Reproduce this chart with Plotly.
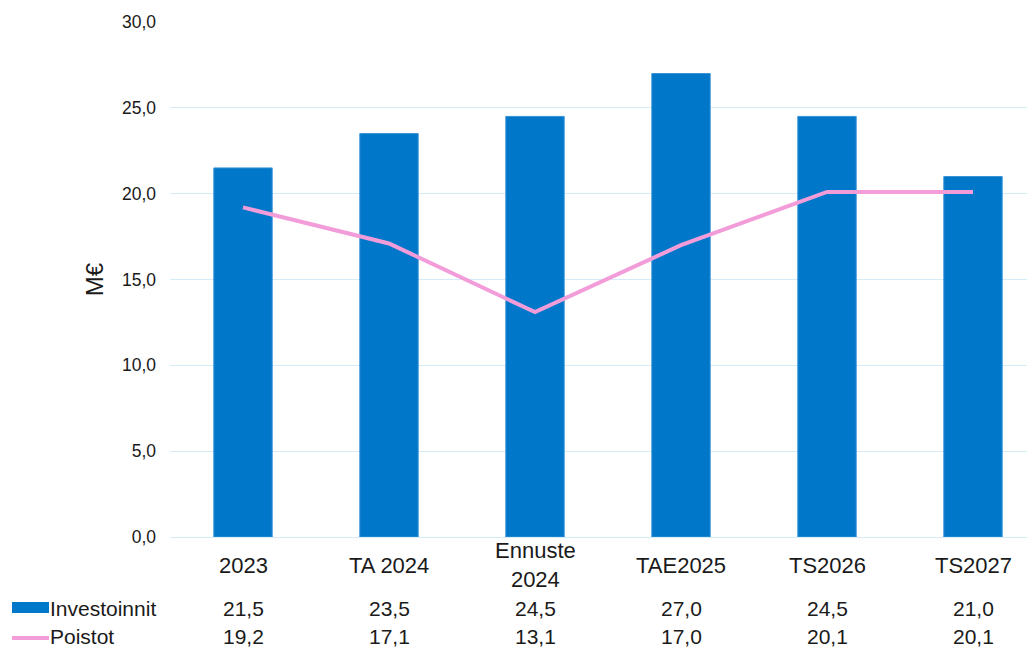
import plotly.graph_objects as go

categories = ["2023", "TA 2024", "Ennuste<br>2024", "TAE2025", "TS2026", "TS2027"]
investoinnit = [21.5, 23.5, 24.5, 27.0, 24.5, 21.0]
poistot = [19.2, 17.1, 13.1, 17.0, 20.1, 20.1]
series_names = ["Investoinnit", "Poistot"]
y_ticks = [0, 5, 10, 15, 20, 25, 30]

BAR = "#0077C8"
PINK = "#F29CD9"
GRID = "#D3ECF8"
FONT = "Liberation Sans, Arial, sans-serif"
TXT = "#1a1a1a"

OFF = 8  # page body margin
W, H = 1035 - OFF, 650 - OFF
L, R, T, B = 170 - OFF, 0, 22 - OFF, H - (537 - OFF)
pw, ph = W - L - R, H - T - B

def fmt(v):
    return f"{v:.1f}".replace(".", ",")

def px2paper_x(px):
    return (px - OFF - L) / pw

def py2paper_y(py):
    return (H - B - (py - OFF)) / ph

xs = list(range(len(categories)))

fig = go.Figure()
fig.add_trace(go.Bar(x=xs, y=investoinnit, name=series_names[0], width=0.4,
                     marker=dict(color=BAR, line=dict(color="#3A93D5", width=1)),
                     showlegend=False))
fig.add_trace(go.Scatter(x=xs, y=poistot, name=series_names[1], mode="lines",
                         line=dict(color=PINK, width=4), showlegend=False))

ann = []
for i, c in enumerate(categories):
    ann.append(dict(x=i, y=py2paper_y(565), xref="x", yref="paper", text=c,
                    showarrow=False, xanchor="center", yanchor="middle",
                    font=dict(family=FONT, size=22, color=TXT)))
for row_y, vals in [(608, investoinnit), (636, poistot)]:
    for i, v in enumerate(vals):
        ann.append(dict(x=i, y=py2paper_y(row_y), xref="x", yref="paper", text=fmt(v),
                        showarrow=False, xanchor="center", yanchor="middle",
                        font=dict(family=FONT, size=21, color=TXT)))
for row_y, name in [(608, series_names[0]), (636, series_names[1])]:
    ann.append(dict(x=px2paper_x(48), y=py2paper_y(row_y), xref="paper", yref="paper",
                    text=name, showarrow=False, xanchor="left", yanchor="middle",
                    font=dict(family=FONT, size=21, color=TXT)))

shapes = [
    dict(type="rect", xref="paper", yref="paper",
         x0=px2paper_x(12), x1=px2paper_x(49), y0=py2paper_y(613), y1=py2paper_y(602),
         fillcolor=BAR, line=dict(width=0)),
    dict(type="line", xref="paper", yref="paper",
         x0=px2paper_x(12), x1=px2paper_x(49), y0=py2paper_y(638), y1=py2paper_y(638),
         line=dict(color=PINK, width=4)),
]

fig.update_layout(
    width=W, height=H,
    margin=dict(l=L, r=R, t=T, b=B, pad=0),
    paper_bgcolor="white", plot_bgcolor="white",
    separators=", ",
    font=dict(family=FONT, color=TXT),
    annotations=ann, shapes=shapes,
    xaxis=dict(range=[-0.5, -0.5 + pw / 146.0], showticklabels=False, showgrid=False,
               zeroline=False, showline=False, fixedrange=True),
    yaxis=dict(range=[0, 30], tickvals=y_ticks, tickformat=".1f",
               gridcolor=GRID, gridwidth=1, zeroline=True, zerolinecolor=GRID,
               zerolinewidth=1, showline=False, ticks="", ticklabelstandoff=13,
               tickfont=dict(family=FONT, size=17.5, color=TXT),
               title=dict(text="M€", standoff=11,
                          font=dict(family=FONT, size=24, color=TXT))),
)

fig.write_html("out.html")
